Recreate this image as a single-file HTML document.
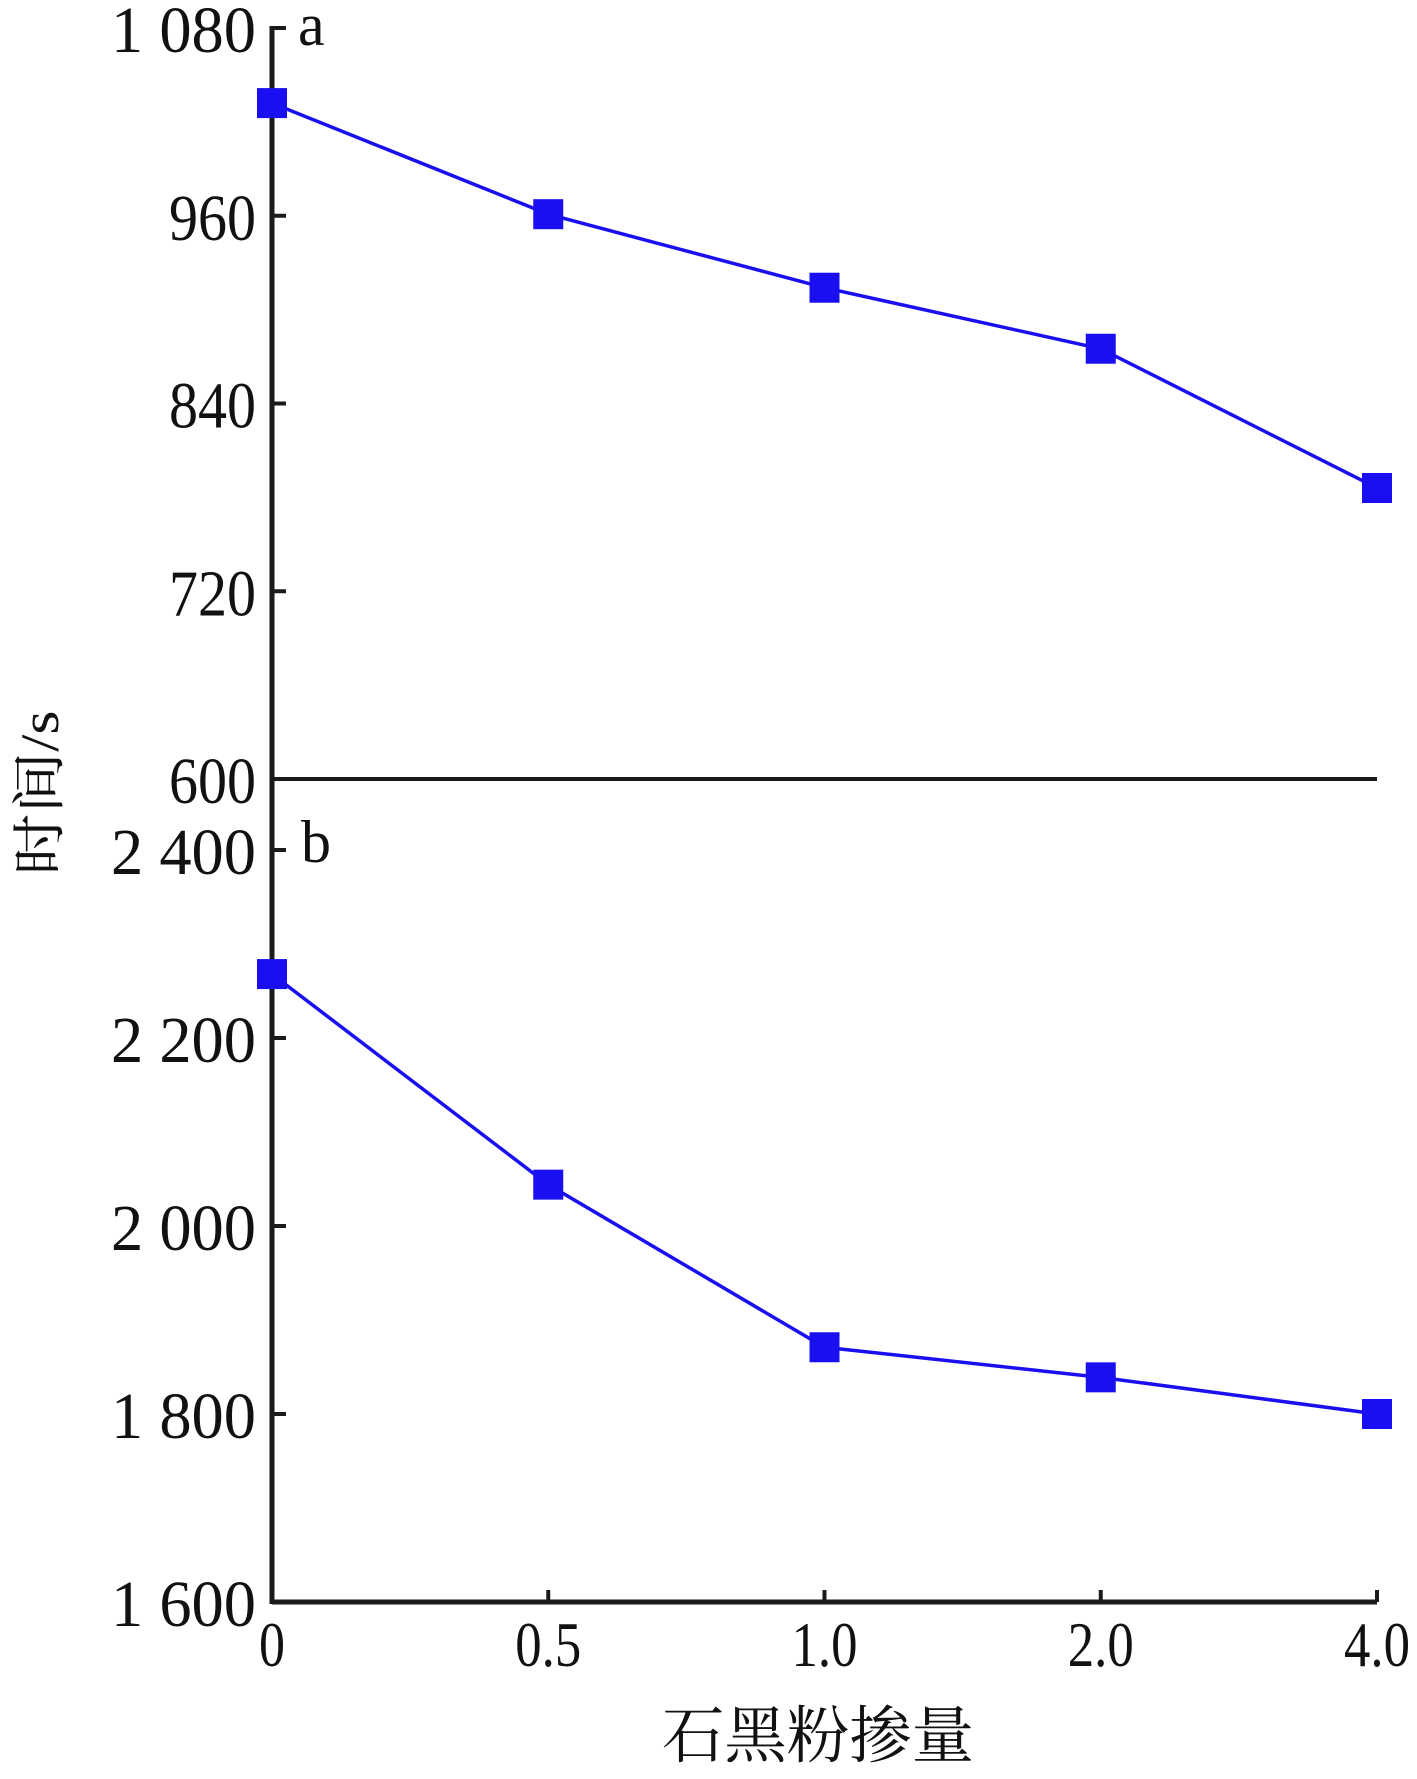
<!DOCTYPE html>
<html><head><meta charset="utf-8"><style>body{margin:0;background:#fff}svg{display:block}</style></head>
<body>
<svg width="1417" height="1779" viewBox="0 0 1417 1779" font-family="'Liberation Serif','Noto Serif CJK SC',serif" fill="#111">
<g id="axes"></g>
<g id="marks"></g>
</svg>
<script>
const categories=["0","0.5","1.0","2.0","4.0"];
const seriesA=[1032,961,914,875,786];
const seriesB=[2268,2044,1871,1839,1800];
const ticksA=[1080,960,840,720,600];
const ticksB=[2400,2200,2000,1800,1600];
const tickLabelsA=["1 080","960","840","720","600"];
const tickLabelsB=["2 400","2 200","2 000","1 800","1 600"];
const NS="http://www.w3.org/2000/svg";
const axes=document.getElementById('axes'),marks=document.getElementById('marks');
const X0=272,X1=1377;
const xs=i=>X0+(X1-X0)*i/(categories.length-1);
const yA=v=>28+(1080-v)*(779-28)/480;
const yB=v=>850+(2400-v)*(1602-850)/800;
function mk(tag,attrs,parent){const e=document.createElementNS(NS,tag);for(const k in attrs)e.setAttribute(k,attrs[k]);parent.appendChild(e);return e;}
// axes lines
let l=mk('line',{x1:X0,y1:26,x2:X0,y2:1604,stroke:'#1a1a1a','stroke-width':5},axes);


l=mk('line',{x1:X0,y1:779,x2:X1,y2:779,stroke:'#1a1a1a','stroke-width':4},axes);


l=mk('line',{x1:X0,y1:1602,x2:X1,y2:1602,stroke:'#1a1a1a','stroke-width':5},axes);


function yTicks(ticks,labels,fy,name){ticks.forEach((v,i)=>{const y=fy(v);
 const t=mk('line',{x1:X0,y1:y,x2:X0+14,y2:y,stroke:'#1a1a1a','stroke-width':4},axes);
 
 
 const s=labels[i];
 const tx=mk('text',{x:256,y:y+24,'text-anchor':'end','font-size':66,textLength:s.length*29,lengthAdjust:'spacingAndGlyphs'},axes);
 tx.textContent=s;
 
 });}
yTicks(ticksA,tickLabelsA,yA,'y-axis-a');
yTicks(ticksB.slice(0,4),tickLabelsB.slice(0,4),yB,'y-axis-b');
{const tx=mk('text',{x:256,y:1602+24,'text-anchor':'end','font-size':66,textLength:5*29,lengthAdjust:'spacingAndGlyphs'},axes);tx.textContent=tickLabelsB[4];

}
categories.forEach((c,i)=>{const x=xs(i);
 if(i>0){const t=mk('line',{x1:x,y1:1602,x2:x,y2:1590,stroke:'#1a1a1a','stroke-width':4},axes);
 
 }
 const tx=mk('text',{x:x,y:1666,'text-anchor':'middle','font-size':64,textLength:c.length===1?26:66,lengthAdjust:'spacingAndGlyphs'},axes);
 tx.textContent=c;
 
 });
let t=mk('text',{x:818,y:1757,'text-anchor':'middle','font-size':62,textLength:312,lengthAdjust:'spacingAndGlyphs'},axes);
t.textContent='石黑粉掺量';


t=mk('text',{x:0,y:0,'text-anchor':'middle','font-size':54,textLength:165,lengthAdjust:'spacingAndGlyphs',transform:'translate(58,793) rotate(-90)'},axes);
t.textContent='时间/s';


t=mk('text',{x:298,y:45,'font-size':60},axes);t.textContent='a';


t=mk('text',{x:301,y:862,'font-size':60},axes);t.textContent='b';


function series(vals,fy,name){
 const pts=vals.map((v,i)=>xs(i)+','+fy(v)).join(' ');
 const p=mk('polyline',{points:pts,fill:'none',stroke:'#1a0ff0','stroke-width':3.5},marks);
 
 
 vals.forEach((v,i)=>{const r=mk('rect',{x:xs(i)-15,y:fy(v)-15,width:30,height:30,fill:'#1a0ff0'},marks);
 
 });}
series(seriesA,yA,'series-a');
series(seriesB,yB,'series-b');
</script>
</body></html>
